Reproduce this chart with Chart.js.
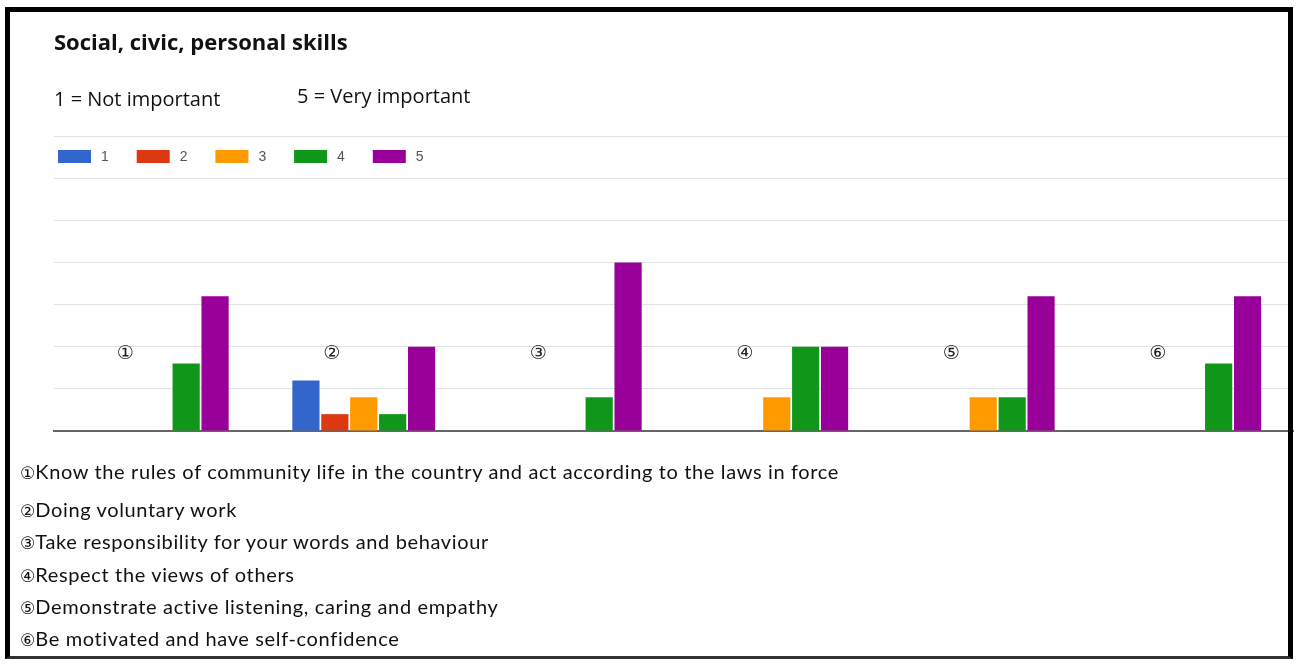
<!DOCTYPE html>
<html>
<head>
<meta charset="utf-8">
<script src="https://cdn.jsdelivr.net/npm/chart.js@4.4.1/dist/chart.umd.min.js"></script>
<style>
  body { margin: 0; background: #fff; }
  #page { position: relative; width: 1298px; height: 664px; overflow: hidden; }
  #frame {
    position: absolute; left: 5px; top: 7px; width: 1288px; height: 652px;
    border: 5px solid #000; border-bottom: 3px solid #333;
    box-sizing: border-box;
  }
  #chart { position: absolute; left: 0; top: 0; }
  .txt { position: absolute; color: #111; white-space: nowrap; }
  #title { left: 54px; top: 26px; font: bold 22px "Open Sans", sans-serif; }
  #scaleLow { left: 54px; top: 85px; font: 20px "Open Sans", sans-serif; }
  #scaleHigh { left: 297px; top: 82px; font: 20px "Open Sans", sans-serif; }
  #statements div {
    position: absolute; left: 20px; font: 20px Lato, sans-serif; letter-spacing: 0.64px;
    color: #111; white-space: nowrap;
  }
  #statements span { font: 17px "DejaVu Sans", sans-serif; letter-spacing: 0; }
</style>
</head>
<body>
<div id="page">
  <canvas id="chart" width="1298" height="664"></canvas>
  <div id="title" class="txt">Social, civic, personal skills</div>
  <div id="scaleLow" class="txt">1 = Not important</div>
  <div id="scaleHigh" class="txt">5 = Very important</div>
  <div id="statements"></div>
  <div id="frame"></div>
</div>
<script>
const categories = ["①", "②", "③", "④", "⑤", "⑥"];
const ratingLabels = ["1", "2", "3", "4", "5"];
const ratingColors = ["#3366cc", "#dc3912", "#ff9900", "#109618", "#990099"];

// answer counts per rating, one entry per statement
const rating1 = [0, 3, 0, 0, 0, 0];
const rating2 = [0, 1, 0, 0, 0, 0];
const rating3 = [0, 2, 0, 2, 2, 0];
const rating4 = [4, 1, 2, 5, 2, 4];
const rating5 = [8, 5, 10, 5, 8, 8];

const yMax = 17.5;
const yStep = 2.5;

const statements = [
  "Know the rules of community life in the country and act according to the laws in force",
  "Doing voluntary work",
  "Take responsibility for your words and behaviour",
  "Respect the views of others",
  "Demonstrate active listening, caring and empathy",
  "Be motivated and have self-confidence",
];
const statementTops = [459, 497, 529, 562, 594, 626];

document.addEventListener("DOMContentLoaded", () => {
  writeStatements();
  createChart();
});

function writeStatements() {
  const box = document.querySelector("#statements");
  statements.forEach((text, i) => {
    box.innerHTML += `<div style="top:${statementTops[i]}px"><span>${categories[i]}</span>${text}</div>`;
  });
}

// legend squares drawn inside the plot, top left
const legendPlugin = {
  id: "insideLegend",
  afterDraw(chart) {
    const ctx = chart.ctx;
    ctx.save();
    ctx.font = "14px Arial, 'Liberation Sans', sans-serif";
    ctx.textBaseline = "middle";
    chart.data.datasets.forEach((ds, i) => {
      const x = 58 + i * 78.7;
      const y = 150;
      ctx.fillStyle = ds.backgroundColor;
      ctx.fillRect(x, y, 33, 13);
      ctx.fillStyle = "#555";
      ctx.fillText(ds.label, x + 43, y + 7);
    });
    ctx.restore();
  },
};

// circled statement numbers, written beside each group of bars
const groupLabelPlugin = {
  id: "groupLabels",
  afterDatasetsDraw(chart) {
    const ctx = chart.ctx;
    const xScale = chart.scales.x;
    const yScale = chart.scales.y;
    ctx.save();
    ctx.font = "19px 'DejaVu Sans', sans-serif";
    ctx.fillStyle = "#222";
    ctx.textAlign = "center";
    ctx.textBaseline = "middle";
    chart.data.labels.forEach((label, i) => {
      ctx.fillText(label, xScale.getPixelForValue(i) - 32, yScale.bottom - 77);
    });
    ctx.restore();
  },
};

function createChart() {
  const ctx = document.querySelector("#chart").getContext("2d");
  const series = [rating1, rating2, rating3, rating4, rating5];

  const datasets = series.map((values, i) => ({
    label: ratingLabels[i],
    data: values,
    backgroundColor: ratingColors[i],
    borderWidth: 0,
    barPercentage: 0.94,
    categoryPercentage: 0.7,
  }));

  return new Chart(ctx, {
    type: "bar",
    data: { labels: categories, datasets: datasets },
    plugins: [legendPlugin, groupLabelPlugin],
    options: {
      responsive: false,
      animation: false,
      layout: { padding: { left: 54, right: 5, top: 136, bottom: 233 } },
      plugins: { legend: { display: false }, tooltip: { enabled: false } },
      scales: {
        x: {
          ticks: { display: false },
          grid: { display: false, drawTicks: false },
          border: { display: true, color: "#666", width: 2 },
        },
        y: {
          min: 0,
          max: yMax,
          ticks: { display: false, stepSize: yStep },
          grid: {
            drawTicks: false,
            color: (c) => (c.tick && c.tick.value === 0 ? "rgba(0,0,0,0)" : "#e2e2e2"),
          },
          border: { display: false },
        },
      },
    },
  });
}
</script>
</body>
</html>
